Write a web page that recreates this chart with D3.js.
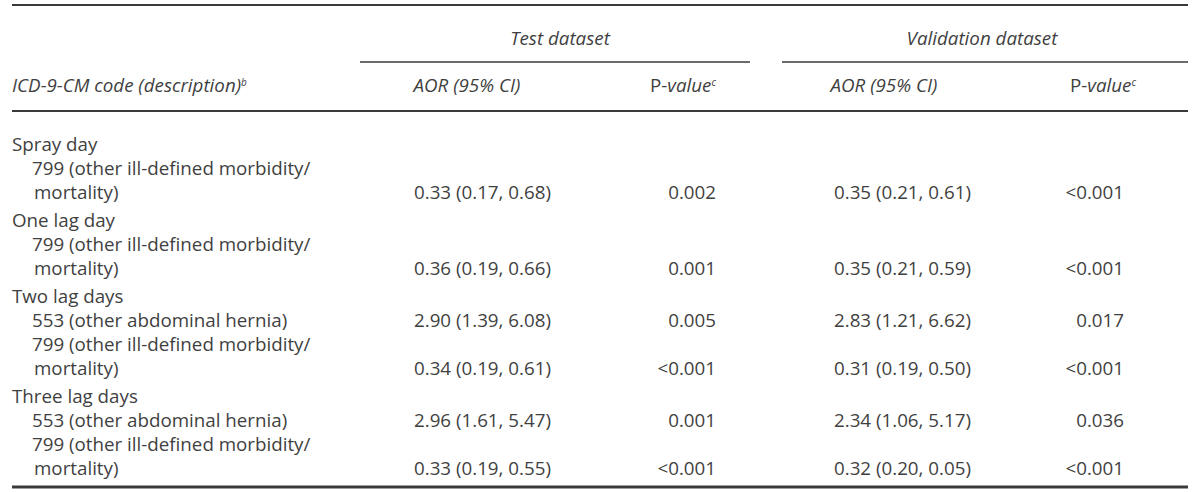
<!DOCTYPE html>
<html><head><meta charset="utf-8">
<script src="https://cdn.jsdelivr.net/npm/d3@7"></script>
<style>
html,body{margin:0;padding:0;background:#fff;}
svg text{font-family:"Open Sans","Noto Sans",sans-serif;fill:#3f3f3f;font-weight:400;}
</style></head>
<body><svg id="t" width="1200" height="492"></svg>
<script>
// ---- data ----
const groups = ["Spray day", "One lag day", "Two lag days", "Three lag days"];
const rowGroup = [0, 1, 2, 2, 3, 3];
const rowCode = [
  ["799 (other ill-defined morbidity/", "mortality)"],
  ["799 (other ill-defined morbidity/", "mortality)"],
  ["553 (other abdominal hernia)"],
  ["799 (other ill-defined morbidity/", "mortality)"],
  ["553 (other abdominal hernia)"],
  ["799 (other ill-defined morbidity/", "mortality)"]
];
const testAOR = ["0.33 (0.17, 0.68)", "0.36 (0.19, 0.66)", "2.90 (1.39, 6.08)", "0.34 (0.19, 0.61)", "2.96 (1.61, 5.47)", "0.33 (0.19, 0.55)"];
const testP = ["0.002", "0.001", "0.005", "<0.001", "0.001", "<0.001"];
const valAOR = ["0.35 (0.21, 0.61)", "0.35 (0.21, 0.59)", "2.83 (1.21, 6.62)", "0.31 (0.19, 0.50)", "2.34 (1.06, 5.17)", "0.32 (0.20, 0.05)"];
const valP = ["<0.001", "<0.001", "0.017", "<0.001", "0.036", "<0.001"];
const spanHeaders = ["Test dataset", "Validation dataset"];
const stubHeader = "ICD-9-CM code (description)";

// ---- layout ----
const svg = d3.select("#t");
const L = 12, R = 1188;
const lineH = 24, groupGap = 4;
const col = {aor1: 414, p1: 716, aor2: 834, p2: 1124};
const span = [[360, 750], [782, 1188]];

const probe = svg.append("text").style("font-size", "20px").text(testAOR[0]);
const fs = 20 * 137 / probe.node().getComputedTextLength();
probe.remove();
svg.style("font-size", fs + "px");

const lines = [];
let y = 151;
let prevGroup = -1;
rowCode.forEach((code, i) => {
  const g = rowGroup[i];
  if (g !== prevGroup) {
    if (prevGroup !== -1) y += groupGap;
    lines.push({text: groups[g], x: L, y: y});
    y += lineH;
    prevGroup = g;
  }
  code.forEach((t, k) => {
    lines.push({text: t, x: k === 0 ? 32 : 34, y: y});
    if (k === code.length - 1) lines.push({row: i, y: y});
    else y += lineH;
  });
  y += lineH;
});

const rule = (x1, x2, yy, w) => svg.append("line").attr("x1", x1).attr("x2", x2).attr("y1", yy).attr("y2", yy)
  .attr("stroke", "#3a3a3a").attr("stroke-width", w);
rule(L, R, 5, 1.8);
rule(span[0][0], span[0][1], 62, 1.5);
rule(span[1][0], span[1][1], 62, 1.5);
rule(L, R, 111, 1.8);
rule(L, R, 487, 3);

spanHeaders.forEach((h, i) => {
  svg.append("text").attr("x", (span[i][0] + span[i][1]) / 2 + (i ? -3 : 5)).attr("y", 45)
    .attr("text-anchor", "middle").style("font-style", "italic").text(h);
});

const hy = 92;
const stub = svg.append("text").attr("x", L).attr("y", hy).style("font-style", "italic");
stub.append("tspan").text(stubHeader);
stub.append("tspan").attr("dy", -6).style("font-size", "10px").text("b");

[[467, 650], [884, 1070]].forEach(([ax, px]) => {
  svg.append("text").attr("x", ax).attr("y", hy).attr("text-anchor", "middle").style("font-style", "italic").text("AOR (95% CI)");
  const p = svg.append("text").attr("x", px).attr("y", hy);
  p.append("tspan").text("P-");
  p.append("tspan").style("font-style", "italic").text("value");
  p.append("tspan").attr("dy", -6).style("font-size", "10px").style("font-style", "italic").text("c");
});

lines.forEach(d => {
  if (d.text !== undefined) {
    svg.append("text").attr("x", d.x).attr("y", d.y).text(d.text);
  } else {
    const i = d.row;
    svg.append("text").attr("x", col.aor1).attr("y", d.y).text(testAOR[i]);
    svg.append("text").attr("x", col.p1).attr("y", d.y).attr("text-anchor", "end").text(testP[i]);
    svg.append("text").attr("x", col.aor2).attr("y", d.y).text(valAOR[i]);
    svg.append("text").attr("x", col.p2).attr("y", d.y).attr("text-anchor", "end").text(valP[i]);
  }
});
</script></body></html>
